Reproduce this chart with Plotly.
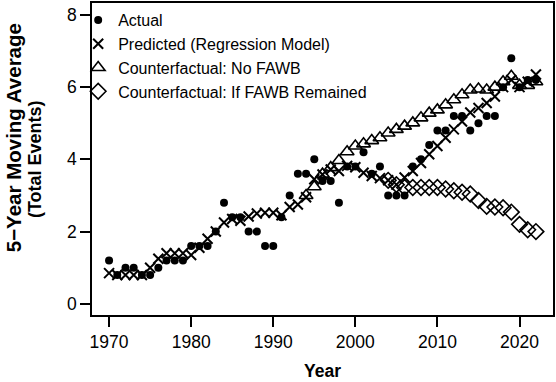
import plotly.graph_objects as go

years_all = list(range(1970, 2023))
actual = [1.2, 0.8, 1.0, 1.0, 0.8, 0.8, 1.0, 1.2, 1.2, 1.2,
          1.6, 1.6, 1.6, 2.0, 2.8, 2.4, 2.4, 2.0, 2.0, 1.6,
          1.6, 2.4, 3.0, 3.6, 3.6, 4.0, 3.4, 3.4, 2.8, 3.8,
          3.8, 4.2, 3.6, 3.8, 3.0, 3.0, 3.0, 3.8, 4.0, 4.4,
          4.8, 4.8, 5.2, 5.2, 4.8, 5.0, 5.2, 5.2, 6.0, 6.8,
          6.0, 6.2, 6.2]
predicted = [0.85, 0.8, 0.8, 0.8, 0.8, 1.0, 1.25, 1.4, 1.4, 1.4,
             1.35, 1.55, 1.8, 2.0, 2.25, 2.35, 2.3, 2.42, 2.5, 2.52,
             2.52, 2.45, 2.68, 2.75, 2.95, 3.45, 3.58, 3.72, 3.68, 3.82,
             3.78, 3.63, 3.54, 3.48, 3.42, 3.3, 3.5, 3.68, 3.9, 4.14,
             4.37, 4.6, 4.83, 5.05, 5.3, 5.42, 5.56, 5.74, 6.0, 6.2,
             6.0, 6.15, 6.35]
years_nofawb = list(range(1994, 2023))
no_fawb = [3.0, 3.24, 3.59, 3.77, 3.97, 4.21, 4.37, 4.43, 4.52, 4.6,
           4.73, 4.83, 4.92, 5.01, 5.15, 5.28, 5.37, 5.51, 5.65, 5.79,
           5.92, 5.95, 5.92, 6.0, 6.15, 6.3, 6.05, 6.05, 6.15]
years_remained = list(range(2004, 2023))
fawb_remained = [3.42, 3.3, 3.22, 3.22, 3.22, 3.22, 3.22, 3.18, 3.13, 3.09,
                 3.04, 2.86, 2.7, 2.68, 2.66, 2.54, 2.2, 2.05, 2.0]

x_ticks = [1970, 1980, 1990, 2000, 2010, 2020]
y_ticks = [0, 2, 4, 6, 8]
y_title_lines = ["5\u2212Year Moving Average", "(Total Events)"]

FONT = "Liberation Sans, Arial, Helvetica, sans-serif"

fig = go.Figure()
fig.add_trace(go.Scatter(x=years_all, y=actual, mode="markers", name="Actual",
                         marker=dict(symbol="circle", size=8, color="black")))
fig.add_trace(go.Scatter(x=years_all, y=predicted, mode="markers",
                         name="Predicted (Regression Model)",
                         marker=dict(symbol="x-thin-open", size=10, color="black",
                                     line=dict(width=2, color="black"))))
fig.add_trace(go.Scatter(x=years_nofawb, y=no_fawb, mode="markers",
                         name="Counterfactual: No FAWB",
                         marker=dict(symbol="triangle-up-open", size=12, color="black",
                                     line=dict(width=1.6, color="black"))))
fig.add_trace(go.Scatter(x=years_remained, y=fawb_remained, mode="markers",
                         name="Counterfactual: If FAWB Remained",
                         marker=dict(symbol="diamond-open", size=12, color="black",
                                     line=dict(width=1.6, color="black"))))

fig.update_layout(
    width=556, height=382,
    margin=dict(l=92, r=2, t=1, b=67),
    paper_bgcolor="white", plot_bgcolor="white",
    font=dict(family=FONT, size=17.5, color="black"),
    showlegend=True,
    legend=dict(x=-0.03, y=1.0, xanchor="left", yanchor="top",
                bgcolor="rgba(0,0,0,0)", borderwidth=0,
                font=dict(size=16), itemwidth=30, tracegroupgap=0),
    xaxis=dict(range=[1967.92, 2024.08], tickvals=x_ticks,
               ticks="outside", ticklen=10, tickwidth=1.5, tickcolor="black",
               showline=True, linecolor="black", linewidth=1.5, mirror=True,
               showgrid=False, zeroline=False,
               title=dict(text="<b>Year</b>", standoff=14,
                          font=dict(size=17.5))),
    yaxis=dict(range=[-0.31, 8.33], tickvals=y_ticks,
               ticks="outside", ticklen=10, tickwidth=1.5, tickcolor="black",
               showline=True, linecolor="black", linewidth=1.5, mirror=True,
               showgrid=False, zeroline=False),
    annotations=[
        dict(text="<b>" + y_title_lines[0] + "</b>", textangle=-90,
             xref="paper", yref="paper", x=-0.171, y=0.567,
             xanchor="center", yanchor="middle", showarrow=False,
             font=dict(size=20.5)),
        dict(text="<b>" + y_title_lines[1] + "</b>", textangle=-90,
             xref="paper", yref="paper", x=-0.1235, y=0.5,
             xanchor="center", yanchor="middle", showarrow=False,
             font=dict(size=18)),
    ],
)

fig.write_html("out.html")
